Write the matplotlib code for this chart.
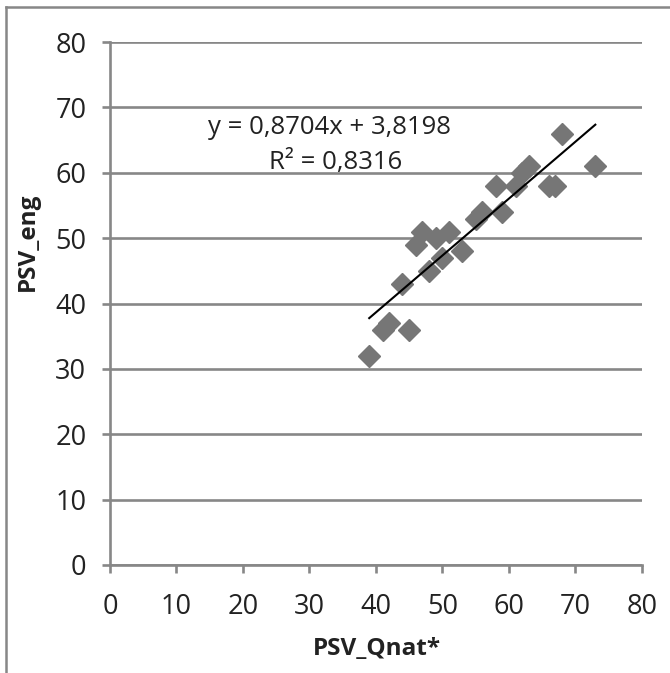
import numpy as np
import matplotlib
matplotlib.use('Agg')
import matplotlib.pyplot as plt
from matplotlib.lines import Line2D

# data
psv_qnat = [39, 41, 42, 45, 44, 48, 46, 47, 49, 51, 50, 53, 55, 56, 59, 58, 61, 62, 63, 66, 67, 68, 73]
psv_eng = [32, 36, 37, 36, 43, 45, 49, 51, 50, 51, 47, 48, 53, 54, 54, 58, 58, 60, 61, 58, 58, 66, 61]
slope, intercept = 0.8704, 3.8198
eq_text = 'y = 0,8704x + 3,8198'
r2_text = 'R² = 0,8316'
ticks = np.arange(0, 81, 10)

grey = '#878787'
plt.rcParams['font.family'] = ['Open Sans', 'DejaVu Sans']

fig = plt.figure(figsize=(6.7, 6.73), dpi=100)
ax = fig.add_axes([0.164, 0.1605, 0.794, 0.777])

ax.plot(psv_qnat, psv_eng, ls='none', marker='D', ms=11.5, color='#767676', mec='#767676', zorder=3)
xs = np.array([min(psv_qnat), max(psv_qnat)])
ax.plot(xs, slope*xs + intercept, color='black', lw=1.5, zorder=4)

ax.set_xlim(0, 80)
ax.set_ylim(0, 80)
ax.set_xticks(ticks)
ax.set_yticks(ticks)
ax.grid(True, axis='y', color=grey, lw=1.9)
ax.set_axisbelow(True)
for s in ['top', 'right']:
    ax.spines[s].set_visible(False)
for s in ['left', 'bottom']:
    ax.spines[s].set_color(grey)
    ax.spines[s].set_linewidth(1.9)
ax.tick_params(axis='both', direction='out', length=6, width=1.9, color=grey, labelsize=19.5, labelcolor='#222222')
ax.tick_params(axis='y', pad=11)
ax.tick_params(axis='x', pad=14)

ax.text(33.1, 66.9, eq_text, ha='center', va='center', fontsize=18.5, color='#222222')
ax.text(34.0, 61.5, r2_text, ha='center', va='center', fontsize=18.5, color='#222222')

fig.text(0.563, 0.036, 'PSV_Qnat*', ha='center', va='center', fontsize=17.5, fontweight='bold', color='#222222')
fig.text(0.041, 0.64, 'PSV_eng', ha='center', va='center', rotation=90, fontsize=17.5, fontweight='bold', color='#222222')

# outer chart frame (cropped on the right and bottom)
fig.add_artist(Line2D([0.009, 0.009], [0.0, 0.99], transform=fig.transFigure, color=grey, lw=1.8))
fig.add_artist(Line2D([0.009, 1.0], [0.99, 0.99], transform=fig.transFigure, color=grey, lw=1.8))

plt.savefig('out.png', dpi=100)
